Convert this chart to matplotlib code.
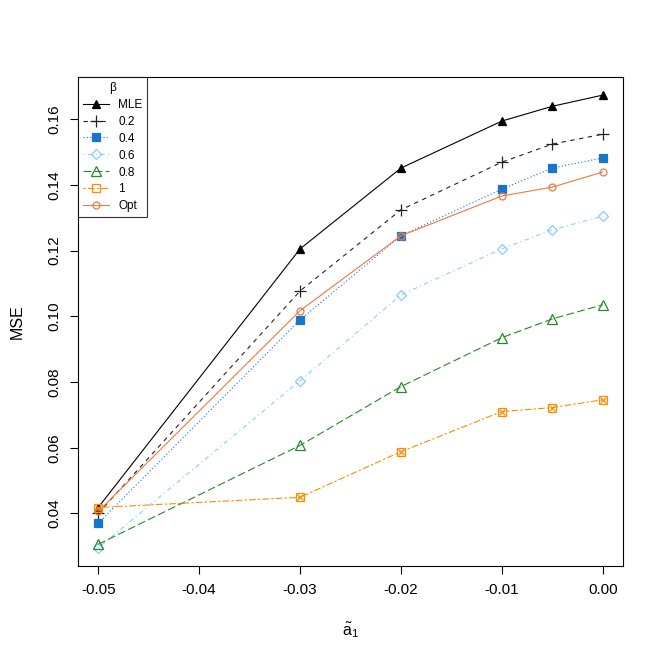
import numpy as np
import matplotlib
matplotlib.use('Agg')
import matplotlib.pyplot as plt

plt.rcParams['font.family'] = ['Liberation Sans', 'DejaVu Sans']
plt.rcParams['mathtext.fontset'] = 'custom'
plt.rcParams['mathtext.rm'] = 'Liberation Sans'
plt.rcParams['mathtext.it'] = 'Liberation Sans'

# data
a1 = [-0.05, -0.03, -0.02, -0.01, -0.005, 0.0]
mle = [0.0418, 0.1205, 0.1451, 0.1594, 0.1639, 0.1673]
b02 = [0.0400, 0.1077, 0.1324, 0.1469, 0.1524, 0.1554]
b04 = [0.0370, 0.0989, 0.1245, 0.1387, 0.1451, 0.1482]
b06 = [0.0295, 0.0804, 0.1065, 0.1205, 0.1263, 0.1305]
b08 = [0.0306, 0.0607, 0.0786, 0.0935, 0.0992, 0.1035]
b10 = [0.0418, 0.0449, 0.0588, 0.0710, 0.0722, 0.0746]
opt = [0.0406, 0.1017, 0.1245, 0.1366, 0.1393, 0.1439]

labels = ['MLE', '0.2', '0.4', '0.6', '0.8', '1', 'Opt']
series = [mle, b02, b04, b06, b08, b10, opt]
colors = ['black', '#222222', '#1874CD', '#87CEFA', '#228B22', '#FF8C00', '#EE7942']
styles = ['-', (0, (4, 4)), (0, (1, 2)), (0, (1, 3, 4, 3)), (0, (7, 3)), (0, (2, 2, 6, 2)), '-']
markers = ['^', '+', 's', 'D', '^', 's', 'o']
mfill = ['black', 'none', '#1874CD', 'none', 'none', 'none', 'none']
msize = [6, 9, 5.5, 5, 7, 6, 5]

fig = plt.figure(figsize=(6.64, 6.64), dpi=100)
ax = fig.add_axes([0.1175, 0.1476, 0.8208, 0.7364])

for y, lab, c, ls, m, mf, ms in zip(series, labels, colors, styles, markers, mfill, msize):
    ax.plot(a1, y, color=c, linestyle=ls, linewidth=0.8, marker=m, markersize=ms,
            markerfacecolor=mf, markeredgecolor=c, markeredgewidth=0.9, label=lab)
    if lab == '1':
        ax.plot(a1, y, linestyle='none', marker='x', markersize=4, color=c,
                markeredgewidth=0.9)

ax.set_xlim(-0.052, 0.002)
ax.set_ylim(0.0240, 0.1728)
ax.set_xticks([-0.05, -0.04, -0.03, -0.02, -0.01, 0.0])
ax.set_xticklabels(['-0.05', '-0.04', '-0.03', '-0.02', '-0.01', '0.00'])
ax.set_yticks([0.04, 0.06, 0.08, 0.10, 0.12, 0.14, 0.16])
ax.set_yticklabels(['0.04', '0.06', '0.08', '0.10', '0.12', '0.14', '0.16'],
                   rotation=90, va='center')
ax.tick_params(direction='out', length=6, labelsize=11, pad=6)
ax.set_xlabel(r'$\mathregular{\tilde{a}_1}$', fontsize=11.5, labelpad=17)
ax.set_ylabel('MSE', fontsize=11.5, labelpad=16)

leg = ax.legend(loc='upper left', title='β', fontsize=8.5, title_fontsize=8.5,
                frameon=True, fancybox=False, edgecolor='black',
                borderaxespad=0, handlelength=2.2, labelspacing=0.42,
                handletextpad=0.8, borderpad=0.4)
leg.get_frame().set_linewidth(0.8)

fig.savefig('out.png', dpi=100)
